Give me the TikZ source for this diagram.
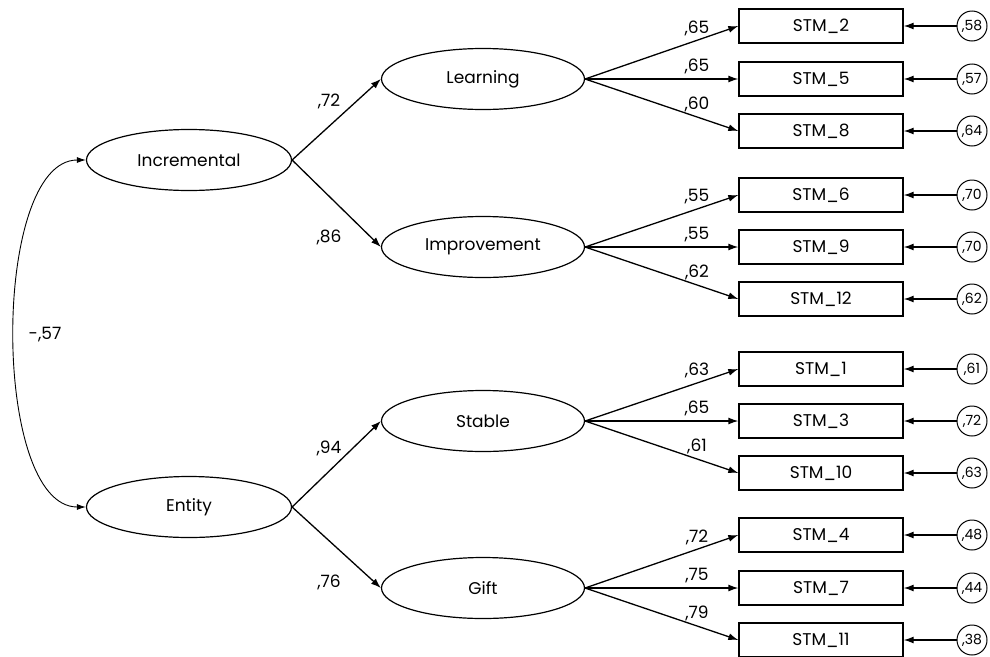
\documentclass[tikz,border=0pt]{standalone}
\usepackage{fontspec}
\setmainfont{Poppins}
\usetikzlibrary{arrows.meta, shapes.geometric}

\begin{document}
\begin{tikzpicture}
    [
      x=1pt,
      y=-1pt,
      font=\fontsize{17}{20}\selectfont,
      latent/.style={ellipse,draw=black,line width=1.2pt,minimum width=203pt,minimum height=61pt,inner sep=0pt},
      item/.style={rectangle,draw=black,line width=1.3pt,minimum width=164pt,minimum height=34pt,inner sep=0pt},
      err/.style={circle,draw=black,line width=1pt,minimum size=30pt,inner sep=0pt,font=\fontsize{14}{16}\selectfont},
      coef/.style={inner sep=1pt},
      loadarrow/.style={-{Latex[length=10pt,width=7pt]},line width=1.3pt},
      covarrow/.style={{Latex[length=9pt,width=6pt]}-{Latex[length=9pt,width=6pt]},line width=0.9pt},
    ]
    \useasboundingbox (0,0) rectangle (990,656);

    % first-order factors
    \node at (189, 160) [latent, minimum width=205pt] (inc) {Incremental};
    \node at (189, 507) [latent, minimum width=205pt] (ent) {Entity};

    % second-level factors
    \node at (483, 79)  [latent] (lrn) {Learning};
    \node at (483, 247) [latent] (imp) {Improvement};
    \node at (483, 421) [latent] (stb) {Stable};
    \node at (483, 588) [latent] (gft) {Gift};

    % items
    \node at (821, 26)  [item] (stm2)  {STM\_2};
    \node at (821, 79)  [item] (stm5)  {STM\_5};
    \node at (821, 131) [item] (stm8)  {STM\_8};
    \node at (821, 195) [item] (stm6)  {STM\_6};
    \node at (821, 247) [item] (stm9)  {STM\_9};
    \node at (821, 299) [item] (stm12) {STM\_12};
    \node at (821, 369) [item] (stm1)  {STM\_1};
    \node at (821, 421) [item] (stm3)  {STM\_3};
    \node at (821, 473) [item] (stm10) {STM\_10};
    \node at (821, 535) [item] (stm4)  {STM\_4};
    \node at (821, 588) [item] (stm7)  {STM\_7};
    \node at (821, 640) [item] (stm11) {STM\_11};

    % errors
    \node at (972, 26)  [err] (e2)  {,58};
    \node at (972, 79)  [err] (e5)  {,57};
    \node at (972, 131) [err] (e8)  {,64};
    \node at (972, 195) [err] (e6)  {,70};
    \node at (972, 247) [err] (e9)  {,70};
    \node at (972, 299) [err] (e12) {,62};
    \node at (972, 369) [err] (e1)  {,61};
    \node at (972, 421) [err] (e3)  {,72};
    \node at (972, 473) [err] (e10) {,63};
    \node at (972, 535) [err] (e4)  {,48};
    \node at (972, 588) [err] (e7)  {,44};
    \node at (972, 640) [err] (e11) {,38};

    \draw[loadarrow] (e2.west)  -- (stm2.east);
    \draw[loadarrow] (e5.west)  -- (stm5.east);
    \draw[loadarrow] (e8.west)  -- (stm8.east);
    \draw[loadarrow] (e6.west)  -- (stm6.east);
    \draw[loadarrow] (e9.west)  -- (stm9.east);
    \draw[loadarrow] (e12.west) -- (stm12.east);
    \draw[loadarrow] (e1.west)  -- (stm1.east);
    \draw[loadarrow] (e3.west)  -- (stm3.east);
    \draw[loadarrow] (e10.west) -- (stm10.east);
    \draw[loadarrow] (e4.west)  -- (stm4.east);
    \draw[loadarrow] (e7.west)  -- (stm7.east);
    \draw[loadarrow] (e11.west) -- (stm11.east);

    % loadings
    \draw[loadarrow] (lrn.east) -- node[coef, pos=0.73, above=3pt] {,65} (stm2.west);
    \draw[loadarrow] (lrn.east) -- node[coef, pos=0.73, above=3pt] {,65} (stm5.west);
    \draw[loadarrow] (lrn.east) -- node[coef, pos=0.73, above=3pt] {,60} (stm8.west);
    \draw[loadarrow] (imp.east) -- node[coef, pos=0.73, above=3pt] {,55} (stm6.west);
    \draw[loadarrow] (imp.east) -- node[coef, pos=0.73, above=3pt] {,55} (stm9.west);
    \draw[loadarrow] (imp.east) -- node[coef, pos=0.73, above=3pt] {,62} (stm12.west);
    \draw[loadarrow] (stb.east) -- node[coef, pos=0.73, above=3pt] {,63} (stm1.west);
    \draw[loadarrow] (stb.east) -- node[coef, pos=0.73, above=3pt] {,65} (stm3.west);
    \draw[loadarrow] (stb.east) -- node[coef, pos=0.73, above=3pt] {,61} (stm10.west);
    \draw[loadarrow] (gft.east) -- node[coef, pos=0.73, above=3pt] {,72} (stm4.west);
    \draw[loadarrow] (gft.east) -- node[coef, pos=0.73, above=3pt] {,75} (stm7.west);
    \draw[loadarrow] (gft.east) -- node[coef, pos=0.73, above=3pt] {,79} (stm11.west);

    % structural paths
    \draw[loadarrow] (inc.east) -- (lrn.west);
    \draw[loadarrow] (inc.east) -- (imp.west);
    \draw[loadarrow] (ent.east) -- (stb.west);
    \draw[loadarrow] (ent.east) -- (gft.west);
    \node at (329, 101) [coef] (c1) {,72};
    \node at (329, 237) [coef] (c2) {,86};
    \node at (329, 448) [coef] (c3) {,94};
    \node at (329, 582) [coef] (c4) {,76};

    % covariance
    \draw[covarrow] (inc.west) to [out=180, in=180, looseness=0.7] (ent.west);
    \node at (45, 335) [coef] (cov) {-,57};
\end{tikzpicture}
\end{document}
